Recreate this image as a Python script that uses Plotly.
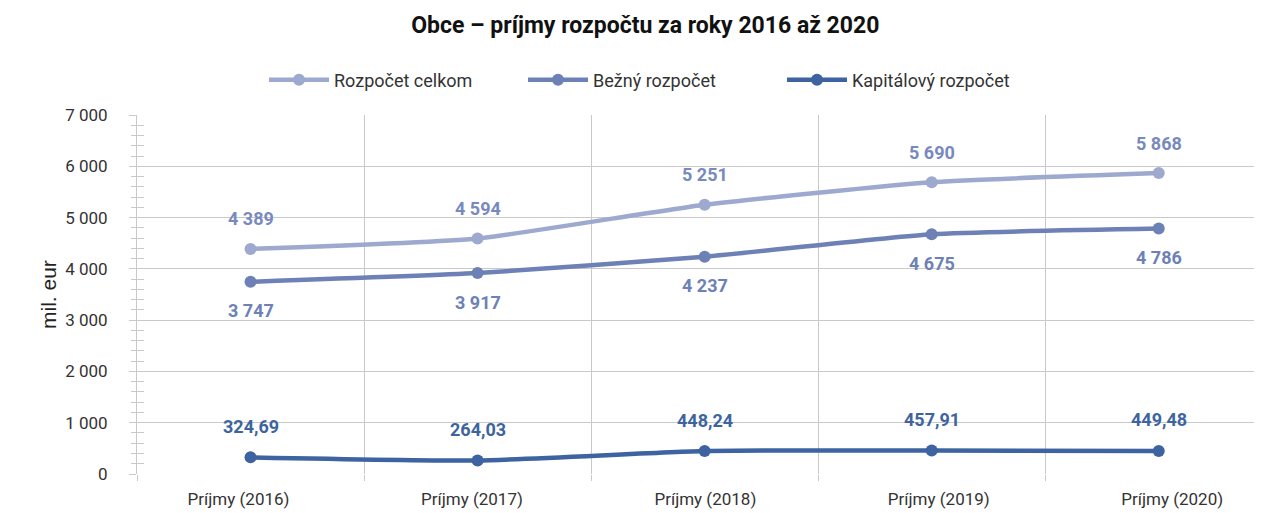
import plotly.graph_objects as go

categories = ["Príjmy (2016)", "Príjmy (2017)", "Príjmy (2018)", "Príjmy (2019)", "Príjmy (2020)"]
rozpocet_celkom = [4389, 4594, 5251, 5690, 5868]
bezny_rozpocet = [3747, 3917, 4237, 4675, 4786]
kapitalovy_rozpocet = [324.69, 264.03, 448.24, 457.91, 449.48]

series_names = ["Rozpočet celkom", "Bežný rozpočet", "Kapitálový rozpočet"]
line_colors = ["#9DA9CE", "#6D81B6", "#3D63A0"]
label_colors = ["#7889BE", "#6D81B6", "#3E64A0"]

FONT = "Roboto"


def fmt_int(v):
    return f"{v:,.0f}".replace(",", " ")


def fmt_dec(v):
    return f"{v:.2f}".replace(".", ",")


fig = go.Figure()
all_series = [rozpocet_celkom, bezny_rozpocet, kapitalovy_rozpocet]
for name, vals, col in zip(series_names, all_series, line_colors):
    fig.add_trace(go.Scatter(
        x=categories, y=vals, name=name, mode="lines+markers",
        line=dict(color=col, width=4.5, shape="spline", smoothing=0.5),
        marker=dict(color=col, size=12),
        hoverinfo="skip",
    ))

# helper trace for the overlay axes (category labels + inside minor ticks)
fig.add_trace(go.Scatter(x=categories, y=kapitalovy_rozpocet, xaxis="x2", yaxis="y2", mode="lines",
                         opacity=0, showlegend=False, hoverinfo="skip"))

annotations = []
shifts = [30, -29, 31]
formatters = [fmt_int, fmt_int, fmt_dec]
for vals, col, sh, f in zip(all_series, label_colors, shifts, formatters):
    for c, v in zip(categories, vals):
        annotations.append(dict(
            x=c, y=v, xref="x", yref="y", text=f"<b>{f(v)}</b>", showarrow=False,
            yshift=sh, font=dict(family=FONT, size=18, color=col),
        ))
annotations.append(dict(
    x=-0.090, y=0.5, xref="paper", yref="paper", text="mil. eur", textangle=-90,
    showarrow=False, font=dict(family="Liberation Sans", size=21, color="#222222"),
))

grid = "#C9C9C9"
yrange = [0, 7000]
fig.update_layout(
    width=1262, height=513,
    margin=dict(l=129, r=0, t=107, b=47),
    paper_bgcolor="white", plot_bgcolor="white",
    separators=", ",
    font=dict(family=FONT, color="#333333"),
    title=dict(text="<b>Obce – príjmy rozpočtu za roky 2016 až 2020</b>",
               x=0.505, xref="container", y=1 - 17 / 513, yref="container",
               xanchor="center", yanchor="middle",
               font=dict(family=FONT, size=23, color="#111111")),
    legend=dict(orientation="h", x=0.455, xanchor="center", y=1.0975, yanchor="middle",
                font=dict(family=FONT, size=18, color="#333333"),
                entrywidth=184, entrywidthmode="pixels", itemwidth=60),
    showlegend=True,
    annotations=annotations,
    xaxis=dict(
        type="category", range=[-0.5, 4.49], tickson="boundaries",
        showgrid=True, gridcolor=grid, gridwidth=1,
        ticks="outside", ticklen=6, tickcolor=grid,
        showline=False, zeroline=False, showticklabels=False,
    ),
    xaxis2=dict(
        type="category", overlaying="x", side="bottom", range=[-0.435, 4.419],
        showgrid=False, ticks="", showline=False, zeroline=False,
        tickfont=dict(family=FONT, size=17, color="#333333"),
        ticklabelstandoff=13,
    ),
    yaxis=dict(
        range=yrange, dtick=1000, tickformat=",d",
        showgrid=True, gridcolor=grid, gridwidth=1,
        showline=True, linecolor=grid, linewidth=1,
        ticks="outside", ticklen=7, tickcolor=grid,
        minor=dict(dtick=200, ticks="outside", ticklen=5, tickcolor=grid, showgrid=False),
        zeroline=False,
        tickfont=dict(family=FONT, size=17, color="#333333"),
        ticklabelstandoff=18,
    ),
    yaxis2=dict(
        range=yrange, overlaying="y", side="left", dtick=1000,
        showgrid=False, showticklabels=False, zeroline=False, showline=False,
        ticks="", minor=dict(dtick=200, ticks="inside", ticklen=7, tickcolor=grid, showgrid=False),
    ),
)

fig.write_html("out.html")
